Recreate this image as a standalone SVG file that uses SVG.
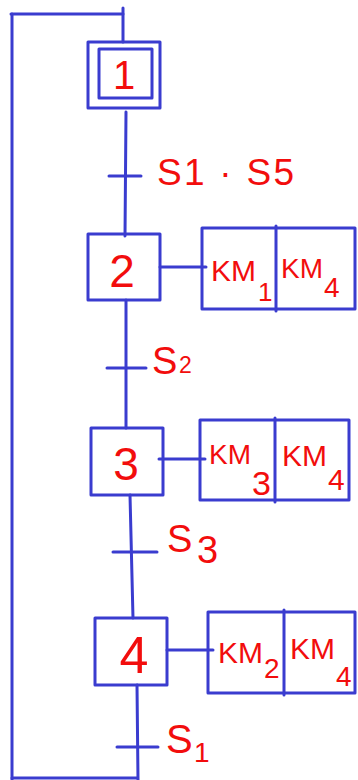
<svg xmlns="http://www.w3.org/2000/svg" width="358" height="780" viewBox="0 0 358 780">
<style>
.ln{stroke:#3a3ccf;stroke-width:3;fill:none;stroke-linecap:round;stroke-linejoin:round}
.t{fill:#f20d0d;font-family:"Liberation Sans",Arial,sans-serif}
</style>
<rect width="358" height="780" fill="#ffffff"/>
<g id="connectors" class="ln">
<polyline points="12,14 12,780"/>
<polyline points="11,14 123,14"/>
<polyline points="123,8 123,42"/>
<polyline points="126,112 125,236"/>
<polyline points="126,300 126,428"/>
<polyline points="130,495 133,618"/>
<polyline points="137,685 138,780"/>
<polyline points="12,778 137,778"/>
<polyline points="160,267 206,267"/>
<polyline points="159,459 205,459"/>
<polyline points="167,650 213,650"/>
</g>
<g id="transition1"><line class="ln" x1="109" y1="176" x2="141" y2="176"/><text class="t" x="157" y="185" font-size="37" textLength="137">S1 · S5</text></g>
<g id="transition2"><line class="ln" x1="107" y1="368" x2="146" y2="368"/><text class="t" x="152" y="374" font-size="38">S</text><text class="t" x="179" y="373" font-size="23">2</text></g>
<g id="transition3"><line class="ln" x1="113" y1="552" x2="157" y2="552"/><text class="t" x="167" y="552" font-size="38">S</text><text class="t" x="197" y="563" font-size="38">3</text></g>
<g id="transition4"><line class="ln" x1="117" y1="747" x2="158" y2="747"/><text class="t" x="166" y="753" font-size="40">S</text><text class="t" x="194" y="762" font-size="28">1</text></g>
<g id="step1"><rect class="ln" x="88" y="42" width="72" height="66"/><rect class="ln" x="99" y="49" width="53" height="49"/><text class="t" x="124" y="89" font-size="40" text-anchor="middle">1</text></g>
<g id="step2"><rect class="ln" x="88" y="234" width="72" height="66"/><text class="t" x="122" y="287" font-size="46" text-anchor="middle">2</text></g>
<g id="step3"><rect class="ln" x="91" y="428" width="72" height="67"/><text class="t" x="126" y="480" font-size="46" text-anchor="middle">3</text></g>
<g id="step4"><rect class="ln" x="95" y="618" width="72" height="67"/><text class="t" x="134" y="673" font-size="52" text-anchor="middle">4</text></g>
<g id="action2"><rect class="ln" x="202" y="228" width="153" height="81"/><line class="ln" x1="276" y1="226" x2="276" y2="311"/>
<text class="t" x="211" y="281" font-size="30">KM</text><text class="t" x="258" y="301" font-size="26">1</text>
<text class="t" x="281" y="278" font-size="28">KM</text><text class="t" x="324" y="297" font-size="28">4</text></g>
<g id="action3"><rect class="ln" x="200" y="420" width="149" height="80"/><line class="ln" x1="275" y1="418" x2="275" y2="502"/>
<text class="t" x="209" y="464" font-size="28">KM</text><text class="t" x="252" y="495" font-size="34">3</text>
<text class="t" x="282" y="466" font-size="30">KM</text><text class="t" x="328" y="490" font-size="30">4</text></g>
<g id="action4"><rect class="ln" x="208" y="612" width="147" height="81"/><line class="ln" x1="284" y1="610" x2="284" y2="695"/>
<text class="t" x="218" y="663" font-size="30">KM</text><text class="t" x="264" y="678" font-size="28">2</text>
<text class="t" x="290" y="659" font-size="30">KM</text><text class="t" x="336" y="686" font-size="28">4</text></g>
</svg>
